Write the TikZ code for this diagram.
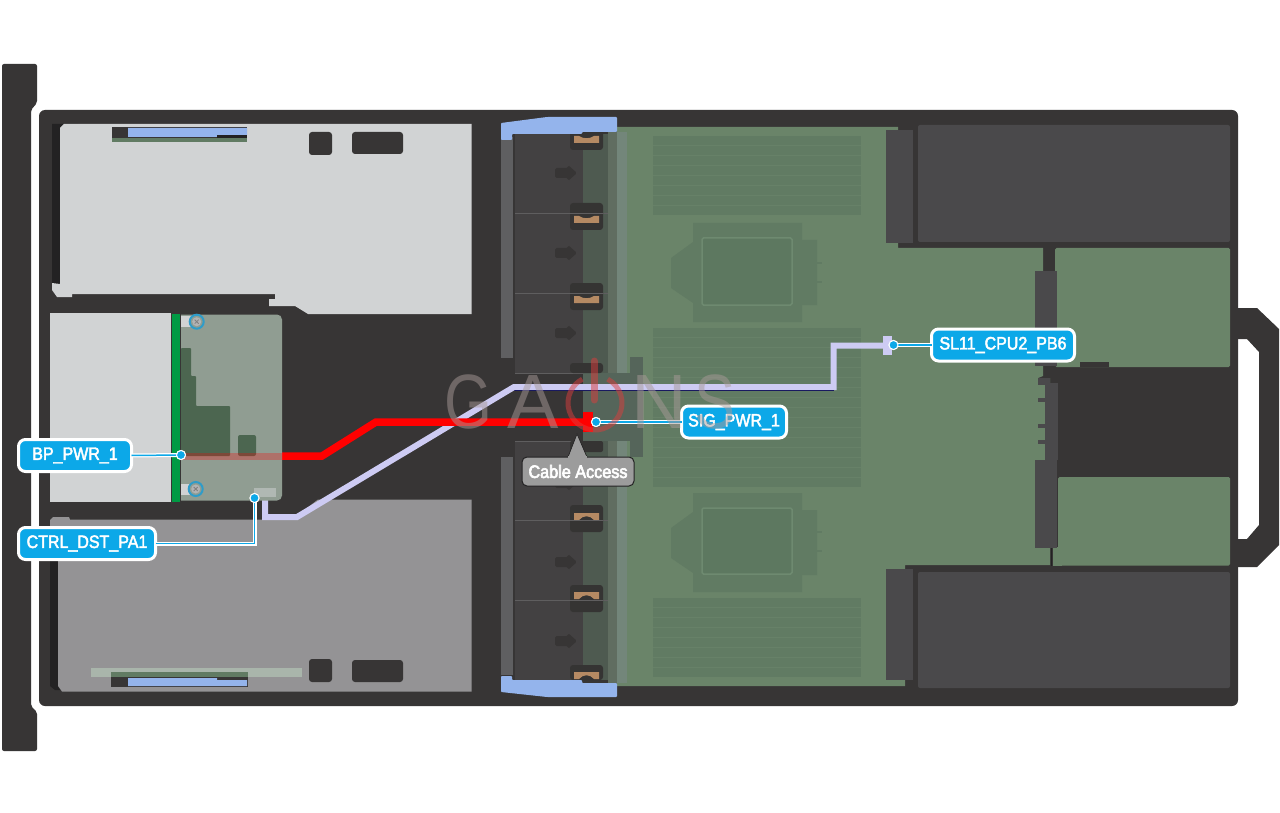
\documentclass[tikz,border=0pt]{standalone}
\usepackage{fontspec}
\setmainfont{Liberation Sans}
\newfontfamily\labfont[FakeStretch=0.89]{Liberation Sans}
\newfontfamily\calfont[FakeStretch=0.9]{Liberation Sans}
\newcommand{\heavytxt}[2]{\special{pdf:code 2 Tr #1 w}#2\special{pdf:code 0 Tr}}
\definecolor{chassis}{HTML}{373535}
\definecolor{deep}{HTML}{232223}
\definecolor{riser}{HTML}{D1D3D4}
\definecolor{riserlow}{HTML}{949395}
\definecolor{boardg}{HTML}{6A8469}
\definecolor{stripe}{HTML}{617B63}
\definecolor{stripegap}{HTML}{678168}
\definecolor{sockin}{HTML}{5D7860}
\definecolor{sockline}{HTML}{6E8A70}
\definecolor{psu}{HTML}{4A494B}
\definecolor{fan}{HTML}{434142}
\definecolor{fanb}{HTML}{4E5A50}
\definecolor{bandl}{HTML}{5F5F61}
\definecolor{strip1}{HTML}{606D60}
\definecolor{strip2}{HTML}{73867A}
\definecolor{midblock}{HTML}{55655A}
\definecolor{latch}{HTML}{353433}
\definecolor{clipblue}{HTML}{94B4EC}
\definecolor{lav}{HTML}{CDCBF3}
\definecolor{labblue}{HTML}{0CA8E8}
\definecolor{grn}{HTML}{009A44}
\definecolor{bpboard}{HTML}{909D92}
\definecolor{bpdark}{HTML}{4C6650}
\definecolor{orangeb}{HTML}{B58A63}
\definecolor{wm}{HTML}{A89A98}
\definecolor{calloutg}{HTML}{9C9C9C}
\tikzset{
  pxgrid/.style={x=1pt,y=-1pt},
  lab/.style={draw=white,line width=3pt,fill=labblue,rounded corners=7pt,text=white,
    font=\labfont\fontsize{18}{20}\selectfont,inner sep=0pt,minimum height=32pt,outer sep=0pt},
  dotmark/.style={circle,fill=labblue,draw=white,line width=1pt,minimum size=9pt,inner sep=0pt},
  leadw/.style={draw=white,line width=4pt},
  leadb/.style={draw=labblue,line width=1.5pt},
  cablew/.style={draw=lav,line width=6pt,line join=miter},
  cabled/.style={draw=black!70!blue,line width=6pt,line join=miter},
  wmark/.style={text=wm,text opacity=.5,font=\fontsize{77}{80}\selectfont,inner sep=0pt,anchor=base},
  hole/.style={fill=chassis,rounded corners=3pt},
  farrow/.style={fill=chassis},
  dim/.style={fill=stripe},
}
\begin{document}
\begin{tikzpicture}[pxgrid]
\useasboundingbox (0,0) rectangle (1280,813);
\fill[white] (0,0) rectangle (1280,813);
% front bar
\fill[chassis,rounded corners=2pt] (2,64) -- (37,64) -- (37,103) -- (31,110) -- (31,706) -- (37,712) -- (37,751) -- (2,751) -- cycle;
% handle
\fill[chassis,even odd rule] (1236,308) -- (1257,308) -- (1279,329) -- (1279,545) -- (1257,567) -- (1236,567) -- cycle
 (1236,339) -- (1247,339) -- (1259,352) -- (1259,525) -- (1247,539) -- (1236,539) -- cycle;
% chassis
\fill[chassis,rounded corners=6pt] (39,110) rectangle (1238,706);
% upper riser
\fill[deep] (52,124) -- (78,124) -- (78,128) -- (60,128) -- (60,284) -- (52,284) -- cycle;
\fill[riser] (60,128) -- (64,124) -- (471.5,124) -- (471.5,314) -- (308,314) -- (295,306) -- (269,306) -- (269,299) -- (275,299) -- (275,294) -- (72,294) -- (72,297) -- (57,297) -- (52,290) -- (52,283) -- (60,284) -- cycle;
\fill[chassis] (112,127) rectangle (247,142);
\fill[clipblue] (128,128) -- (247,128) -- (247,135) -- (217,135) -- (217,137) -- (128,137) -- cycle;
\fill[deep] (217,135) rectangle (247,138);
\fill[stripe] (112,138) rectangle (247,142);
\fill[hole] (309,132) rectangle (332,155);
\fill[hole] (352,132) rectangle (403,154);
% lower riser
\fill[deep] (50,555) -- (58,555) -- (58,684) -- (76,684) -- (76,690) -- (55,690) -- (50,686) -- cycle;
\fill[riserlow] (50,520) -- (53,517) -- (69,517) -- (70,519.5) -- (292,519.5) -- (318,499.5) -- (471.5,499.5) -- (471.5,691.5) -- (62,691.5) -- (58,686) -- (58,561) -- (50,525) -- cycle;
\fill[riser!45!stripe!80!white] (91,668) rectangle (302,677);
\fill[chassis] (111,672) rectangle (248,687);
\fill[stripe] (111,672) rectangle (248,677);
\fill[clipblue] (128,678) -- (217,678) -- (217,680) -- (247,680) -- (247,686) -- (128,686) -- cycle;
\fill[hole] (309,659) rectangle (332,682);
\fill[hole] (352,660) rectangle (403,682);
% left riser block
\fill[riser] (50,313) rectangle (172,502);
% mainboard
\fill[boardg] (617,127) -- (898,127) -- (898,248) -- (1043,248) -- (1043,376) -- (1038,378) -- (1050,378) -- (1050,565) -- (905,565) -- (905,686) -- (617,686) -- cycle;
% right cards
\fill[boardg,rounded corners=1.5pt] (1055,248) rectangle (1230,367);
\fill[chassis] (1080,362) rectangle (1109,367);
\fill[boardg,rounded corners=1.5pt] (1058,477) rectangle (1230,565.5);
\fill[boardg] (1053,547) rectangle (1062,565.5);
\draw[deep,line width=.8pt] (1051.5,547) -- (1051.5,566);
% PSU
\fill[psu,rounded corners=2pt] (918,125) rectangle (1230,242);
\fill[psu,rounded corners=2pt] (918,572) rectangle (1230,688);
% connectors
\fill[psu] (886,130) rectangle (913,243);
\fill[psu] (886,569) rectangle (913,680);
\fill[psu] (1035,271) rectangle (1057,366);
\fill[psu] (1045,383) rectangle (1058,460);
\fill[psu] (1038,378) rectangle (1050,385);
\fill[psu] (1038,398) rectangle (1045,402);
\fill[psu] (1038,424) rectangle (1045,428);
\fill[psu] (1038,440) rectangle (1045,444);
\fill[psu] (1035,460) rectangle (1057,548);
% DIMMs
\fill[stripegap] (653,136) rectangle (861,215);
\fill[stripegap] (653,328) rectangle (861,487);
\fill[stripegap] (653,598) rectangle (861,677);
\foreach \y in {136,146,...,206}{\fill[dim] (653,\y) rectangle (861,\y+9);}
\foreach \y in {328,338,...,478}{\fill[dim] (653,\y) rectangle (861,\y+9);}
\foreach \y in {598,608,...,668}{\fill[dim] (653,\y) rectangle (861,\y+9);}
% CPU sockets
\fill[stripe] (693,223) -- (802,223) -- (802,240) -- (817,240) -- (817,305) -- (802,305) -- (802,322) -- (693,322) -- (693,303) -- (671,288) -- (671,258) -- (693,242) -- cycle;
\fill[stripe] (817,262) rectangle (822,264);
\fill[stripe] (817,281) rectangle (822,283);
\draw[sockline,line width=1.5pt,fill=sockin,rounded corners=1.5pt] (702,238) rectangle (792,305);
\fill[stripe] (693,493) -- (802,493) -- (802,510) -- (817,510) -- (817,575) -- (802,575) -- (802,592) -- (693,592) -- (693,573) -- (671,558) -- (671,528) -- (693,512) -- cycle;
\fill[stripe] (817,531) rectangle (822,533);
\fill[stripe] (817,550) rectangle (822,552);
\draw[sockline,line width=1.5pt,fill=sockin,rounded corners=1.5pt] (702,508) rectangle (792,574);
% fans
\fill[fan] (515,134) rectangle (583,373);
\fill[fanb] (583,134) rectangle (608,373);
\fill[fan] (515,441) rectangle (583,680);
\fill[fanb] (583,441) rectangle (608,680);
\fill[bandl] (501,137) rectangle (513,358);
\fill[bandl] (501,457) rectangle (513,675);
\fill[strip1] (608,132) rectangle (617,373);
\fill[strip1] (608,441) rectangle (617,683);
\fill[strip2] (617,132) rectangle (627,373);
\fill[strip2] (617,441) rectangle (627,683);
\fill[midblock] (583,373) rectangle (643,441);
\fill[midblock] (630,357) rectangle (643,457);
\draw[fan!80!riser,line width=.8pt] (515,213) -- (608,213) (515,293) -- (608,293) (515,520) -- (608,520) (515,600) -- (608,600) (515,373) -- (583,373) (515,441) -- (583,441);
% fan bays: latch blocks
\foreach \t/\b/\oy in {120/150/136,203/230/216,283/310/296}{
  \fill[latch,rounded corners=3pt] (570,\t) rectangle (603,\b);
  \fill[orangeb] (574,\oy) -- (579,\oy) .. controls (583,\oy+3) and (590,\oy+3) .. (594,\oy) -- (599,\oy) -- (599,\oy+7) -- (574,\oy+7) -- cycle;
}
\foreach \t/\b/\oy in {505/532/513,585/612/592,665/680/672}{
  \fill[latch,rounded corners=3pt] (570,\t) rectangle (603,\b);
  \fill[orangeb] (574,\oy+7) -- (574,\oy) -- (599,\oy) -- (599,\oy+7) -- (594,\oy+7) .. controls (590,\oy+2) and (583,\oy+2) .. (579,\oy+7) -- cycle;
}
\draw[fan!80!riser,line width=.8pt] (570,213) -- (603,213) (570,293) -- (603,293) (570,520) -- (603,520) (570,600) -- (603,600);
\fill[latch,rounded corners=3pt] (570,363) rectangle (603,373);
\fill[latch,rounded corners=2pt] (570,441) rectangle (603,452);
% fan arrows
\foreach \y in {173,253,333,483,562,641}{
  \fill[farrow,rounded corners=1.5pt] (555,\y-5) -- (568,\y-5) -- (568,\y-8) -- (577,\y) -- (568,\y+8) -- (568,\y+5) -- (555,\y+5) -- cycle;
}
% blue clips
\fill[clipblue,rounded corners=.8pt] (501,123) -- (547,117) -- (617,117) -- (617,132) -- (582,132) -- (582,134) -- (512,134) -- (512,140) -- (501,140) -- cycle;
\fill[clipblue,rounded corners=.8pt] (501,676) -- (512,676) -- (512,680) -- (582,680) -- (582,683) -- (617,683) -- (617,697) -- (547,697) -- (501,692) -- cycle;
% lavender cable
\node[fill=lav,minimum width=9pt,minimum height=19pt,inner sep=0pt,outer sep=0pt] (slconn) at (887.5,345.5) {};
\coordinate (ca) at (833.5,345.5);
\coordinate (cb) at (833.5,387);
\coordinate (cc) at (514,387);
\coordinate (cd) at (297,517);
\coordinate (ce) at (265,517);
\coordinate (cf) at (265,495);
\draw[cabled,transform canvas={yshift=-.8pt}] (cb) -- (cc);
\draw[cablew] (slconn.center) -- (ca) -- (cb) -- (cc) -- (cd) -- (ce) -- (cf);
% red cable
\node[fill=red,minimum width=10pt,minimum height=20pt,inner sep=0pt,outer sep=0pt] (sigconn) at (588,422) {};
\coordinate (ra) at (376,422);
\coordinate (rb) at (322,456);
\coordinate (rc) at (181,456);
\draw[red,line width=7.5pt,line join=miter] (sigconn.center) -- (ra) -- (rb) -- (rc);
% backplane board
\fill[bpboard,rounded corners=5pt] (176,314.5) rectangle (282,500.5);
\fill[bpdark,rounded corners=.8pt] (181,348) -- (191,348) -- (191,376) -- (196,376) -- (196,406) -- (230,406) -- (230,456) -- (181,456) -- cycle;
\fill[bpdark,rounded corners=2pt] (238,435) rectangle (256,456);
\fill[red,opacity=.28] (181,452.5) rectangle (282,459.5);
\fill[bpboard!50!riser] (254,488) rectangle (276,497);
\fill[riser] (180,316) rectangle (192,327);
\fill[riser] (180,484) rectangle (192,495);
\foreach \x/\y in {196.7/321.7,195.7/489}{
  \draw[labblue!70!gray,line width=2pt,fill=bpboard] (\x,\y) circle (7);
  \fill[riser!85!black] (\x,\y) circle (4.5);
  \draw[gray,line width=.8pt] (\x-2,\y-2) -- (\x+2,\y+2) (\x-2,\y+2) -- (\x+2,\y-2);
}
\fill[grn,draw=chassis,line width=.5pt] (171.5,313) rectangle (180,502);
% labels
\node[lab,minimum width=113pt] (bp) at (75,455.5) {\heavytxt{.45}{BP\_PWR\_1}};
\node[lab,minimum width=137pt] (ctrl) at (87,543.5) {\heavytxt{.45}{CTRL\_DST\_PA1}};
\node[lab,minimum width=105pt] (sig) at (734,422) {\heavytxt{.45}{SIG\_PWR\_1}};
\node[lab,minimum width=143pt] (sl) at (1003,345) {\heavytxt{.45}{SL11\_CPU2\_PB6}};
\node[dotmark] (bpd) at (181,455) {};
\node[dotmark] (ctrld) at (254.5,498) {};
\node[dotmark] (sigd) at (596,422) {};
\node[dotmark] (sld) at (893.5,345) {};
\coordinate (ctrlk) at (254.5,543.5);
\draw[leadw] (bp.east) -- (bpd.center);
\draw[leadb] (bp.east) -- (bpd.center);
\draw[leadw] (ctrl.east) -- (ctrlk) -- (ctrld.center);
\draw[leadb] (ctrl.east) -- (ctrlk) -- (ctrld.center);
\draw[leadw] (sig.west) -- (sigd.center);
\draw[leadb] (sig.west) -- (sigd.center);
\draw[leadw] (sl.west) -- (sld.center);
\draw[leadb] (sl.west) -- (sld.center);
\node[dotmark] at (bpd) {};
\node[dotmark] at (ctrld) {};
\node[dotmark] at (sigd) {};
\node[dotmark] at (sld) {};
% cable access callout
\node[draw=deep,line width=1pt,fill=calloutg,rounded corners=5pt,text=white,inner sep=0pt,minimum width=112pt,minimum height=29pt,font=\calfont\fontsize{18}{20}\selectfont] (cable) at (578,471.5) {\heavytxt{.6}{Cable Access}};
\fill[calloutg] (568,458) -- (577,434) -- (587,458) -- cycle;
\draw[deep,line width=.6pt] (568,457) -- (577,434) -- (587,457);
\fill[calloutg] (568.3,456) rectangle (586.7,458.5);
% watermark
\node[wmark,xscale=.8,transform shape] at (468,428) {G};
\node[wmark] at (533,428) {A};
\node[wmark] at (659,428) {N};
\node[wmark,xscale=.8,transform shape] at (715,428) {S};
\draw[red!60!wm,opacity=.5,line width=5pt] (595,403) ++(-62:27) arc[start angle=-62,end angle=242,radius=27];
\draw[red!60!wm,opacity=.5,line width=7pt,line cap=round] (594,361) -- (594,400);
\end{tikzpicture}
\end{document}
